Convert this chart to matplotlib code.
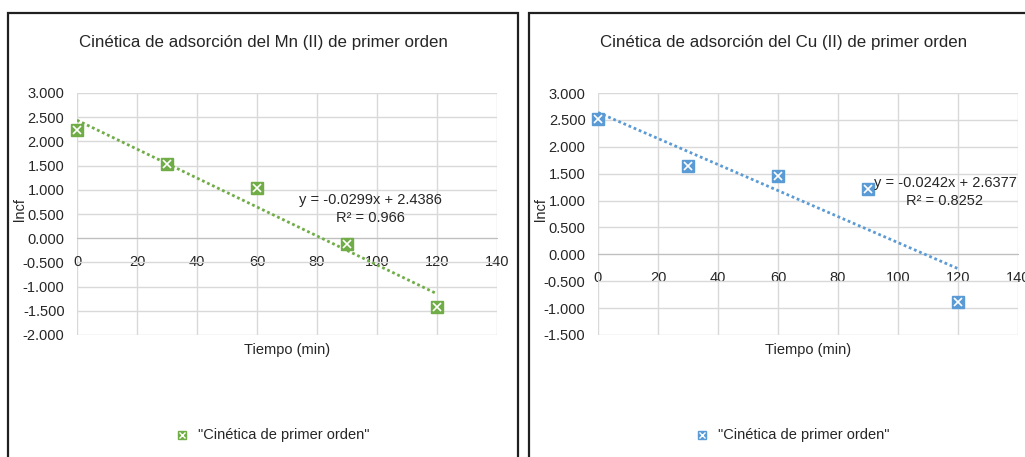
import matplotlib
matplotlib.use("Agg")
import matplotlib.pyplot as plt
from matplotlib.patches import Rectangle
from matplotlib.ticker import FormatStrFormatter, MultipleLocator

plt.rcParams['font.family'] = ['Liberation Sans Narrow', 'Liberation Sans', 'DejaVu Sans']
plt.rcParams['axes.unicode_minus'] = False

W, H = 1025, 457

# data
tiempo = [0, 30, 60, 90, 120]
lncf_mn = [2.23, 1.53, 1.03, -0.12, -1.43]
lncf_cu = [2.51, 1.65, 1.46, 1.21, -0.88]

# trendline coefficients as printed on the charts
fit_mn = (-0.0299, 2.4386)
fit_cu = (-0.0242, 2.6377)
eq_mn = "y = -0.0299x + 2.4386\nR² = 0.966"
eq_cu = "y = -0.0242x + 2.6377\nR² = 0.8252"

titles = ["Cinética de adsorción del Mn (II) de primer orden",
          "Cinética de adsorción del Cu (II) de primer orden"]
legend_label = '"Cinética de primer orden"'
xlabel = "Tiempo (min)"
ylabel = "lncf"

GREEN = '#70AD47'
BLUE = '#5B9BD5'
TXT = '#262626'


def fx(x):
    return x / W


def fy(y):
    return 1 - y / H


def draw_panel(fig, x0, ylim, xs, ys, fit, eq, eq_xy, color, title, frame_x, legend_x):
    # plot area in pixels: x0..x0+420 wide, y 93..335
    ax = fig.add_axes([fx(x0), fy(335), 420 / W, 242 / H])
    ax.set_xlim(0, 140)
    ax.set_ylim(*ylim)
    ax.xaxis.set_major_locator(MultipleLocator(20))
    ax.yaxis.set_major_locator(MultipleLocator(0.5))
    ax.yaxis.set_major_formatter(FormatStrFormatter('%.3f'))
    ax.grid(True, color='#D9D9D9', linewidth=1)
    ax.set_axisbelow(True)
    for s in ['left', 'right', 'top']:
        ax.spines[s].set_visible(False)
    ax.spines['bottom'].set_position(('data', 0))
    ax.spines['bottom'].set_color('#BFBFBF')
    ax.tick_params(length=0, labelsize=10.5, colors=TXT)
    ax.tick_params(axis='x', pad=12)
    ax.tick_params(axis='y', pad=9)

    # trendline
    tx = [0, 120]
    ty = [fit[0] * t + fit[1] for t in tx]
    ax.plot(tx, ty, color=color, linestyle=(0, (1, 1)), linewidth=2, zorder=3)

    # markers: filled square with white cross
    ax.plot(xs, ys, linestyle='none', marker='s', markersize=8,
            markerfacecolor=color, markeredgecolor=color, zorder=4, clip_on=False)
    ax.plot(xs, ys, linestyle='none', marker='x', markersize=6,
            markeredgecolor='white', markeredgewidth=1.2, zorder=5, clip_on=False)

    fig.text(fx(eq_xy[0]), fy(eq_xy[1]), eq, ha='center', va='center',
             fontsize=10.5, color=TXT, linespacing=1.3)

    fig.text(fx(x0 + 186), fy(42), title, ha='center', va='center',
             fontsize=12.2, color=TXT)
    fig.text(fx(x0 + 210), fy(350), xlabel, ha='center', va='center',
             fontsize=10.5, color=TXT)
    fig.text(fx(x0 - 57), fy(210), ylabel, ha='center', va='center',
             rotation=90, fontsize=10.5, color=TXT)

    # legend
    fig.lines.append(plt.Line2D([fx(legend_x)], [fy(435)], transform=fig.transFigure,
                                linestyle='none', marker='s', markersize=6,
                                markerfacecolor=color, markeredgecolor=color))
    fig.lines.append(plt.Line2D([fx(legend_x)], [fy(435)], transform=fig.transFigure,
                                linestyle='none', marker='x', markersize=4.5,
                                markeredgecolor='white', markeredgewidth=1))
    fig.text(fx(legend_x + 16), fy(435), legend_label, ha='left', va='center',
             fontsize=10.5, color=TXT)

    # chart frame
    fig.patches.append(Rectangle((fx(frame_x[0]), fy(470)), fx(frame_x[1] - frame_x[0]),
                                 fy(13) - fy(470), transform=fig.transFigure,
                                 fill=False, edgecolor='#202020', linewidth=1.6))
    return ax


fig = plt.figure(figsize=(W / 100, H / 100), dpi=100)
fig.patch.set_facecolor('white')

draw_panel(fig, 77, (-2.0, 3.0), tiempo, lncf_mn, fit_mn, eq_mn, (370, 209),
           GREEN, titles[0], (8, 518), 182)
draw_panel(fig, 598, (-1.5, 3.0), tiempo, lncf_cu, fit_cu, eq_cu, (945, 192),
           BLUE, titles[1], (529, 1040), 702)

fig.savefig("out.png", dpi=100)
